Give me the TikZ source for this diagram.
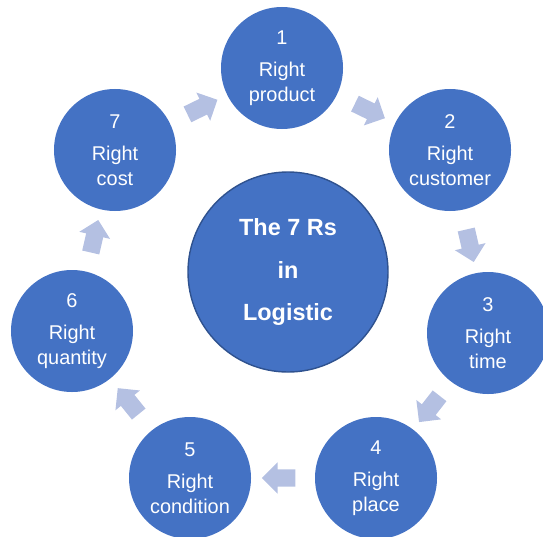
\documentclass[tikz,border=0pt]{standalone}
\usepackage{fontspec}
\setmainfont{Liberation Sans}
\usetikzlibrary{shapes.arrows, calc}
\definecolor{rblue}{RGB}{68,114,196}
\definecolor{rborder}{RGB}{47,82,143}
\definecolor{arrfill}{RGB}{180,192,226}

\begin{document}
\begin{tikzpicture}[x=0.03cm, y=-0.03cm,
  rcirc/.style={circle, fill=rblue, text=white, minimum size=3.66cm, inner sep=0pt,
    align=center, font=\fontsize{17}{21}\selectfont},
  hubcirc/.style={circle, fill=rblue, draw=rborder, line width=1.2pt, text=white,
    minimum size=6cm, inner sep=0pt, align=center, font=\fontsize{20}{36.5}\selectfont\bfseries},
  blockarr/.style={single arrow, fill=arrfill, inner xsep=0pt, inner ysep=0.255cm,
    minimum height=1cm, minimum width=0.93cm, single arrow head extend=0.21cm}]
\useasboundingbox (0,0) rectangle (543,536);
% hub
\node[hubcirc] (hub) at (288,272) {The 7 Rs\\ in\\ Logistic};
% the seven Rs
\node[rcirc] (r1) at (282,68) {1\\[7pt] Right\\ product};
\node[rcirc] (r2) at (450,150) {2\\[7pt] Right\\ customer};
\node[rcirc] (r3) at (488,333) {3\\[7pt] Right\\ time};
\node[rcirc] (r4) at (376,478) {4\\[7pt] Right\\ place};
\node[rcirc] (r5) at (190,478) {5\\[7pt] Right\\ condition};
\node[rcirc] (r6) at (72,331) {6\\[7pt] Right\\ quantity};
\node[rcirc] (r7) at (115,150) {7\\[7pt] Right\\ cost};
% arrows between them
\node[blockarr, rotate=-26] (a12) at ($(r1)!0.5!(r2)$) {};
\node[blockarr, rotate=-77] (a23) at ($(r2)!0.5!(r3)$) {};
\node[blockarr, rotate=-128] (a34) at ($(r3)!0.5!(r4)$) {};
\node[blockarr, rotate=180] (a45) at ($(r4)!0.5!(r5)$) {};
\node[blockarr, rotate=129] (a56) at ($(r5)!0.5!(r6)$) {};
\node[blockarr, rotate=77] (a67) at ($(r6)!0.5!(r7)$) {};
\node[blockarr, rotate=26] (a71) at ($(r7)!0.5!(r1)$) {};
\end{tikzpicture}
\end{document}
